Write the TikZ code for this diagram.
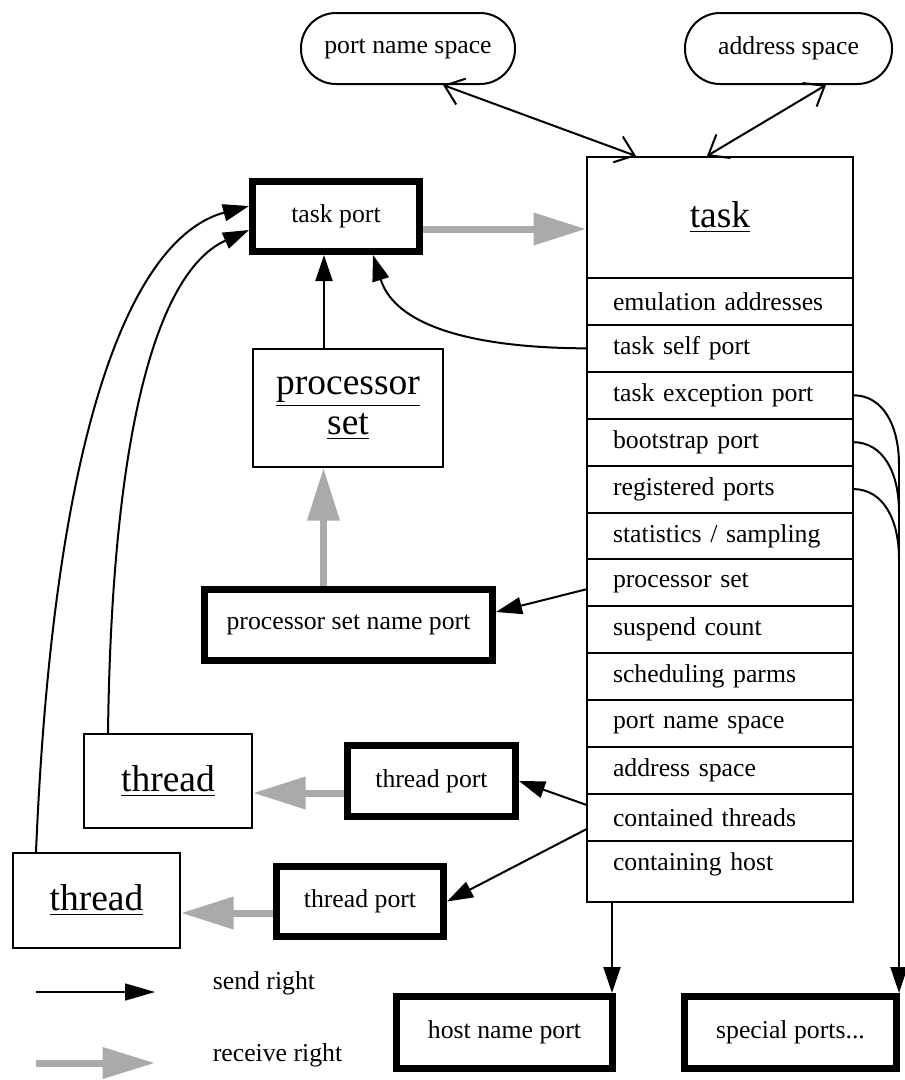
\documentclass[tikz,border=0pt]{standalone}
\usepackage{fontspec}
\setmainfont{Liberation Serif}
\usepackage{xcolor}
\usepackage{tikz}
\usetikzlibrary{arrows.meta}
\definecolor{recvgray}{HTML}{AAAAAA}
\tikzset{
  obj/.style={draw, line width=0.8pt, inner sep=0pt, align=center,
    font=\fontsize{15}{16}\selectfont}, % kernel objects
  portbox/.style={draw, line width=2.8pt, inner sep=0pt}, % ports
  spacebox/.style={draw, line width=0.8pt, rounded corners=14pt, inner sep=0pt},
  field/.style={draw, line width=0.8pt, anchor=north west, outer sep=0pt,
    minimum width=106.4pt, minimum height=18.76pt,
    text width=85.6pt, inner xsep=10.4pt, inner ysep=0pt, align=left}, % task fields
  wire/.style={line width=0.8pt},
  send/.style={wire, -{Triangle[length=10.4pt,width=6.8pt]}}, % send right
  recv/.style={recvgray, line width=2.8pt, -{Triangle[length=21pt,width=12.4pt]}}, % receive right
  twoway/.style={wire, {Straight Barb[length=7pt,width=11pt]}-{Straight Barb[length=7pt,width=11pt]}}
}

\begin{document}
\begin{tikzpicture}[x=0.4pt, y=-0.4pt,
font=\fontsize{10.3}{12}\selectfont
]
\useasboundingbox (0,0) rectangle (905,1080);

%Spaces
\node[spacebox, minimum width=85.6pt, minimum height=28.4pt] (pns) at (408,48.5) {port name space};
\node[spacebox, minimum width=82.8pt, minimum height=28.4pt] (asp) at (788.5,48.5) {address space};

%Task
\node[obj, minimum width=106.4pt, minimum height=48.4pt] (task) at (720,217.5) {\underline{task}};
\foreach \lbl [count=\i] in {emulation addresses, task self port, task exception port,
  bootstrap port, registered ports, statistics / sampling, processor set, suspend count,
  scheduling parms, port name space, address space, contained threads}
  \node[field] (f\i) at (587,{278+(\i-1)*46.9}) {\mbox{\lbl}};
\node[field, draw=none] (f13) at (587,{278+12*46.9}) {\mbox{containing host}};
\coordinate (taskbot) at (853,902);
\draw[wire] (587,157) rectangle (taskbot);

%Objects and ports
\node[portbox, minimum width=66.8pt, minimum height=28pt] (tp) at (336,216.5) {task port};
\node[obj, minimum width=76pt, minimum height=47.2pt] (ps) at (348,408) {\underline{processor}\\\underline{set}};
\node[portbox, minimum width=115.2pt, minimum height=28.4pt] (psnp) at (348.5,625) {processor set name port};
\node[obj, minimum width=67.2pt, minimum height=37.6pt] (thrA) at (168,781) {\underline{thread}};
\node[portbox, minimum width=67.2pt, minimum height=28.4pt] (tpA) at (431.5,781) {thread port};
\node[obj, minimum width=66.8pt, minimum height=38pt] (thrB) at (96.5,900.5) {\underline{thread}};
\node[portbox, minimum width=66.8pt, minimum height=28pt] (tpB) at (360,901.5) {thread port};
\node[portbox, minimum width=86.4pt, minimum height=28.8pt] (hnp) at (504.5,1032.5) {host name port};
\node[portbox, minimum width=84.8pt, minimum height=28.8pt] (spp) at (790.5,1032.5) {special ports...};
\coordinate (drop) at ([xshift=-0.4pt]spp.north east);

%Legend
\coordinate (sendA) at (36,992);
\coordinate (sendB) at (155,992);
\coordinate (recvA) at (36,1063);
\coordinate (recvB) at (155,1063);
\node[anchor=west] (sendlbl) at (204,983) {send right};
\node[anchor=west] (recvlbl) at (204,1055) {receive right};
\draw[wire, line width=0.5pt, -{Triangle[length=12pt,width=6.8pt]}] (sendA) -- (sendB);
\draw[recv, -{Triangle[length=21pt,width=12pt]}] (recvA) -- (recvB);

%Receive rights
\draw[recv] ([yshift=-5pt]tp.east) -- ([yshift=-5pt]tp.east -| task.west);
\draw[recv] ([xshift=-10pt]psnp.north) -- ([xshift=-10pt]psnp.north |- ps.south);
\draw[recv] ([yshift=-4.8pt]tpA.west) -- ([yshift=-4.8pt]tpA.west -| thrA.east);
\draw[recv] ([yshift=-4.6pt]tpB.west) -- ([yshift=-4.6pt]tpB.west -| thrB.east);

%Send rights
\draw[send] ([xshift=-9.6pt]ps.north) -- ([xshift=-9.6pt]ps.north |- tp.south);
\draw[send] (f2.west) .. controls (470,348) and (395,325) .. ([xshift=14.8pt]tp.south);
\draw[send] ([yshift=-2.5pt]f7.west) -- ([yshift=5.2pt]psnp.east);
\draw[send] ([yshift=4.9pt]f12.west) -- (tpA.east);
\draw[send] ([yshift=-4.6pt]f12.west) -- (tpB.east);
\draw[send] ([xshift=-24pt]thrA.north) .. controls (112,420) and (160,270) .. ([yshift=-5.4pt]tp.west);
\draw[send] ([xshift=-24.2pt]thrB.north) .. controls (55,400) and (140,235) .. ([yshift=4.2pt]tp.west);
\draw[send] ([xshift=-1.6pt]hnp.north east |- taskbot) -- ([xshift=-1.6pt]hnp.north east);
\foreach \k in {3,4,5}
  \draw[wire] (f\k.east) .. controls +(30,0) and +(0,-40) .. ([yshift=-28pt]f\k.east -| drop);
\draw[send] ([yshift=-28pt]f3.east -| drop) -- (drop);

%Spaces
\draw[twoway] ([xshift=14pt]pns.south) -- ([xshift=-33.6pt]task.north);
\draw[twoway] ([xshift=15pt]asp.south) -- ([xshift=-5.2pt]task.north);

\end{tikzpicture}
\end{document}
